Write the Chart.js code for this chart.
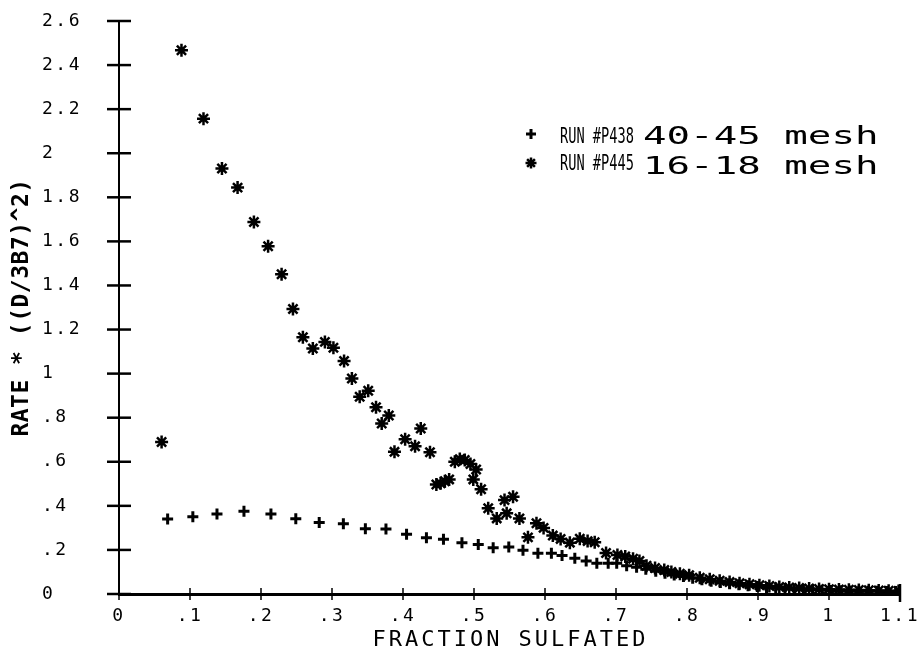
<!DOCTYPE html>
<html>
<head>
<meta charset="utf-8">
<script src="https://cdn.jsdelivr.net/npm/chart.js@4.4.0/dist/chart.umd.min.js"></script>
<style>
  html, body { margin: 0; padding: 0; background: #fff; }
  #wrap { width: 923px; height: 654px; }
</style>
</head>
<body>
<div id="wrap"><canvas id="c"></canvas></div>
<script>
// Run P438, 40-45 mesh (plus markers)
const runP438X = [0.0685, 0.104, 0.138, 0.176, 0.214, 0.249, 0.282, 0.316, 0.347, 0.376,
  0.405, 0.433, 0.457, 0.483, 0.506, 0.527, 0.549, 0.569, 0.590, 0.609,
  0.624, 0.642, 0.658, 0.673, 0.689, 0.701, 0.715, 0.729, 0.742, 0.756,
  0.769, 0.782, 0.795, 0.808, 0.821, 0.834, 0.847, 0.860, 0.873, 0.886,
  0.899, 0.912, 0.925, 0.938, 0.951, 0.964, 0.977, 0.990, 1.003, 1.016,
  1.029, 1.042, 1.055, 1.068, 1.081, 1.094];
const runP438Y = [0.340, 0.351, 0.363, 0.375, 0.363, 0.342, 0.325, 0.319, 0.296, 0.295,
  0.271, 0.255, 0.248, 0.233, 0.225, 0.210, 0.213, 0.198, 0.185, 0.185,
  0.175, 0.162, 0.150, 0.139, 0.139, 0.139, 0.128, 0.121, 0.112, 0.103,
  0.094, 0.086, 0.079, 0.071, 0.065, 0.058, 0.052, 0.047, 0.042, 0.038,
  0.034, 0.030, 0.027, 0.025, 0.022, 0.020, 0.019, 0.017, 0.016, 0.015,
  0.014, 0.013, 0.012, 0.012, 0.011, 0.011];

// Run P445, 16-18 mesh (asterisk markers)
const runP445X = [0.060, 0.088, 0.119, 0.145, 0.167, 0.190, 0.210, 0.229, 0.245, 0.259,
  0.273, 0.290, 0.302, 0.317, 0.328, 0.339, 0.351, 0.362, 0.370, 0.380,
  0.388, 0.403, 0.417, 0.425, 0.438, 0.447, 0.453, 0.459, 0.465, 0.473,
  0.480, 0.487, 0.495, 0.503, 0.499, 0.510, 0.520, 0.532, 0.543, 0.555,
  0.546, 0.564, 0.576, 0.588, 0.598, 0.611, 0.622, 0.635, 0.649, 0.660,
  0.670, 0.686, 0.702, 0.713, 0.724, 0.733, 0.743, 0.755, 0.768, 0.778,
  0.790, 0.803, 0.818, 0.832, 0.846, 0.860, 0.874, 0.888, 0.902, 0.916,
  0.930, 0.944, 0.958, 0.972, 0.986, 1.000, 1.014, 1.028, 1.042, 1.056,
  1.070, 1.084, 1.098];
const runP445Y = [0.690, 2.467, 2.157, 1.931, 1.844, 1.688, 1.578, 1.451, 1.293, 1.165,
  1.114, 1.144, 1.117, 1.057, 0.978, 0.895, 0.922, 0.847, 0.774, 0.810,
  0.645, 0.702, 0.670, 0.751, 0.643, 0.497, 0.502, 0.512, 0.520, 0.600,
  0.612, 0.608, 0.590, 0.565, 0.520, 0.475, 0.389, 0.343, 0.426, 0.441,
  0.366, 0.343, 0.257, 0.321, 0.300, 0.265, 0.250, 0.233, 0.251, 0.240,
  0.235, 0.186, 0.177, 0.170, 0.160, 0.150, 0.128, 0.118, 0.109, 0.100,
  0.092, 0.085, 0.074, 0.067, 0.060, 0.054, 0.049, 0.044, 0.040, 0.036,
  0.032, 0.030, 0.027, 0.025, 0.023, 0.022, 0.020, 0.019, 0.018, 0.017,
  0.016, 0.015, 0.014];

const xTickValues = [0, 0.1, 0.2, 0.3, 0.4, 0.5, 0.6, 0.7, 0.8, 0.9, 1.0, 1.1];
const xTickLabels = ['0', '.1', '.2', '.3', '.4', '.5', '.6', '.7', '.8', '.9', '1', '1.1'];
const yTickValues = [0, 0.2, 0.4, 0.6, 0.8, 1.0, 1.2, 1.4, 1.6, 1.8, 2.0, 2.2, 2.4, 2.6];
const yTickLabels = ['0', '.2', '.4', '.6', '.8', '1', '1.2', '1.4', '1.6', '1.8', '2', '2.2', '2.4', '2.6'];

const xTitle = 'FRACTION SULFATED';
const yTitle = 'RATE * ((D/3B7)^2)';
const legendRuns = ['RUN #P438', 'RUN #P445'];
const legendMesh = ['40-45 mesh', '16-18 mesh'];

const MONO = '"DejaVu Sans Mono", "Liberation Mono", monospace';

function toPoints(xs, ys) {
  return xs.map((x, i) => ({ x: x, y: ys[i] }));
}

// plotter-style text is spaced wider than the font
const spacingPlugin = {
  id: 'spacing',
  beforeDraw(chart) { chart.ctx.letterSpacing = '2.5px'; },
  afterDraw(chart) { chart.ctx.letterSpacing = '0px'; }
};

// tick marks that cross the axes, axis titles and the key
const decorPlugin = {
  id: 'decor',
  beforeDatasetsDraw(chart) {
    const ctx = chart.ctx;
    const xs = chart.scales.x;
    const ys = chart.scales.y;
    const area = chart.chartArea;
    ctx.save();
    ctx.strokeStyle = '#000';
    ctx.lineCap = 'butt';

    ctx.lineWidth = 2.5;
    yTickValues.forEach((v) => {
      const py = ys.getPixelForValue(v);
      ctx.beginPath();
      ctx.moveTo(area.left - 12, py);
      ctx.lineTo(area.left + 12, py);
      ctx.stroke();
    });

    xTickValues.forEach((v, i) => {
      const px = xs.getPixelForValue(v);
      const last = i === xTickValues.length - 1;
      ctx.lineWidth = last ? 2.5 : 1.5;
      ctx.beginPath();
      ctx.moveTo(px, area.bottom - (last ? 10 : 6));
      ctx.lineTo(px, area.bottom + (last ? 8 : 6));
      ctx.stroke();
    });
    ctx.restore();
  },
  afterDraw(chart) {
    const ctx = chart.ctx;
    const area = chart.chartArea;
    ctx.save();
    ctx.fillStyle = '#000';
    ctx.textBaseline = 'middle';

    // x title
    ctx.letterSpacing = '3px';
    ctx.font = '22px ' + MONO;
    ctx.textAlign = 'center';
    ctx.fillText(xTitle, (area.left + area.right) / 2 + 1, 640);

    // y title, rotated
    ctx.save();
    ctx.letterSpacing = '0.5px';
    ctx.translate(22, (area.top + area.bottom) / 2);
    ctx.rotate(-Math.PI / 2);
    ctx.font = 'bold 23px ' + MONO;
    ctx.fillText(yTitle, 0, 0);
    ctx.restore();

    // key
    const rows = [138, 165];
    const styles = ['cross', 'star'];
    rows.forEach((ry, i) => {
      ctx.save();
      ctx.strokeStyle = '#000';
      ctx.fillStyle = '#000';
      ctx.lineWidth = i ? 2.5 : 3;
      if (Chart.helpers && Chart.helpers.drawPoint) {
        Chart.helpers.drawPoint(ctx, { pointStyle: styles[i], radius: i ? 5.5 : 5, rotation: 0, borderWidth: ctx.lineWidth }, 531, ry - 4 + i * 2);
      }
      ctx.restore();

      ctx.save();
      ctx.letterSpacing = '0px';
      ctx.textAlign = 'left';
      ctx.translate(560, ry);
      ctx.scale(0.65, 1);
      ctx.font = '21px ' + MONO;
      ctx.fillText(legendRuns[i], 0, 0);
      ctx.restore();

      ctx.save();
      ctx.letterSpacing = '0px';
      ctx.textAlign = 'left';
      ctx.translate(643, ry + i * 3);
      ctx.scale(1.63, 1);
      ctx.font = '24px ' + MONO;
      ctx.fillText(legendMesh[i], 0, 0);
      ctx.restore();
    });
    ctx.restore();
  }
};

new Chart(document.getElementById('c'), {
  type: 'scatter',
  data: {
    datasets: [
      {
        label: legendRuns[0] + ' ' + legendMesh[0],
        data: toPoints(runP438X, runP438Y),
        pointStyle: 'cross',
        pointRadius: 5.5,
        pointBorderWidth: 3,
        borderColor: '#000',
        backgroundColor: '#000'
      },
      {
        label: legendRuns[1] + ' ' + legendMesh[1],
        data: toPoints(runP445X, runP445Y),
        pointStyle: 'star',
        pointRadius: 6.5,
        pointBorderWidth: 2.5,
        borderColor: '#000',
        backgroundColor: '#000'
      }
    ]
  },
  options: {
    responsive: true,
    maintainAspectRatio: false,
    animation: false,
    events: [],
    layout: { padding: { left: 42, top: 21, right: 23, bottom: 0 } },
    plugins: {
      legend: { display: false },
      tooltip: { enabled: false }
    },
    scales: {
      x: {
        type: 'linear',
        min: 0,
        max: 1.1,
        afterBuildTicks: (scale) => { scale.ticks = xTickValues.map((v) => ({ value: v })); },
        afterFit: (scale) => { scale.height = 60; },
        grid: { display: false },
        border: { display: true, color: '#000', width: 3 },
        ticks: {
          color: '#000',
          padding: 4,
          maxRotation: 0,
          autoSkip: false,
          font: { family: MONO, size: 18 },
          callback: (value, index) => xTickLabels[index]
        }
      },
      y: {
        type: 'linear',
        min: 0,
        max: 2.6,
        afterBuildTicks: (scale) => { scale.ticks = yTickValues.map((v) => ({ value: v })); },
        afterFit: (scale) => { scale.width = 77; },
        grid: { display: false },
        border: { display: true, color: '#000', width: 2 },
        ticks: {
          color: '#000',
          crossAlign: 'far',
          autoSkip: false,
          font: { family: MONO, size: 18 },
          callback: (value, index) => yTickLabels[index]
        }
      }
    }
  },
  plugins: [spacingPlugin, decorPlugin]
});
</script>
</body>
</html>
